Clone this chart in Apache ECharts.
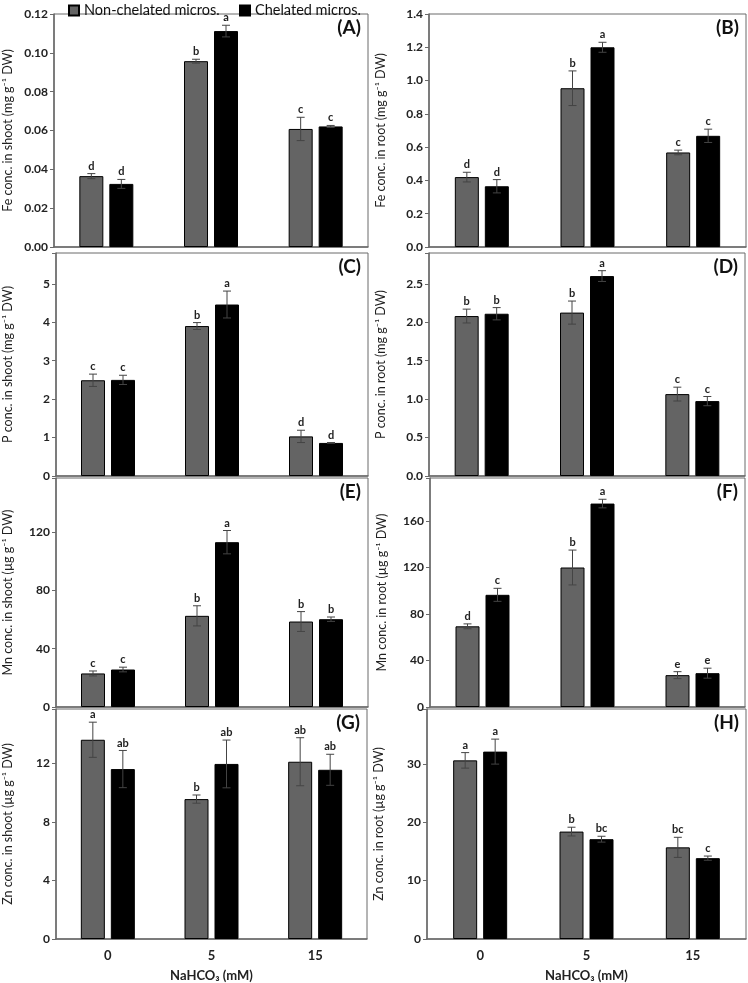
<!DOCTYPE html>
<html>
<head>
<meta charset="utf-8">
<script src="https://cdn.jsdelivr.net/npm/echarts@6/dist/echarts.min.js"></script>
<style>
  html, body { margin: 0; padding: 0; background: #fff; }
  #chart-container { width: 748px; height: 983px; }
</style>
</head>
<body>
<div id="chart-container"></div>
<script>
// NaHCO3 levels (mM)
const categories = ['0', '5', '15'];
const seriesNames = ['Non-chelated micros.', 'Chelated micros.'];

// (A) Fe in shoot
const feShootNon = [0.0365, 0.0957, 0.0608];
const feShootNonErr = [0.0013, 0.001, 0.006];
const feShootChe = [0.0325, 0.1112, 0.0621];
const feShootCheErr = [0.0023, 0.003, 0.0005];
const feShootNonLetters = ['d', 'b', 'c'];
const feShootCheLetters = ['d', 'a', 'c'];

// (B) Fe in root
const feRootNon = [0.42, 0.954, 0.568];
const feRootNonErr = [0.029, 0.104, 0.014];
const feRootChe = [0.365, 1.2, 0.668];
const feRootCheErr = [0.04, 0.03, 0.04];
const feRootNonLetters = ['d', 'b', 'c'];
const feRootCheLetters = ['d', 'a', 'c'];

// (C) P in shoot
const pShootNon = [2.49, 3.9, 1.03];
const pShootNonErr = [0.16, 0.09, 0.16];
const pShootChe = [2.5, 4.46, 0.86];
const pShootCheErr = [0.12, 0.35, 0.01];
const pShootNonLetters = ['c', 'b', 'd'];
const pShootCheLetters = ['c', 'a', 'd'];

// (D) P in root
const pRootNon = [2.08, 2.125, 1.065];
const pRootNonErr = [0.09, 0.15, 0.09];
const pRootChe = [2.11, 2.6, 0.974];
const pRootCheErr = [0.08, 0.07, 0.06];
const pRootNonLetters = ['b', 'b', 'c'];
const pRootCheLetters = ['b', 'a', 'c'];

// (E) Mn in shoot
const mnShootNon = [23, 62.5, 58.6];
const mnShootNonErr = [1.7, 6.9, 6.8];
const mnShootChe = [25.7, 113, 60.2];
const mnShootCheErr = [1.6, 8, 1.5];
const mnShootNonLetters = ['c', 'b', 'b'];
const mnShootCheLetters = ['c', 'a', 'b'];

// (F) Mn in root
const mnRootNon = [69.4, 120, 27.4];
const mnRootNonErr = [2.1, 15, 3];
const mnRootChe = [96.5, 175, 29.1];
const mnRootCheErr = [5.6, 3.7, 4.3];
const mnRootNonLetters = ['d', 'b', 'e'];
const mnRootCheLetters = ['c', 'a', 'e'];

// (G) Zn in shoot
const znShootNon = [13.6, 9.55, 12.1];
const znShootNonErr = [1.2, 0.28, 1.64];
const znShootChe = [11.6, 11.95, 11.55];
const znShootCheErr = [1.27, 1.63, 1.06];
const znShootNonLetters = ['a', 'b', 'ab'];
const znShootCheLetters = ['ab', 'ab', 'ab'];

// (H) Zn in root
const znRootNon = [30.6, 18.4, 15.7];
const znRootNonErr = [1.33, 0.75, 1.72];
const znRootChe = [32.1, 17.1, 13.85];
const znRootCheErr = [2.14, 0.5, 0.36];
const znRootNonLetters = ['a', 'b', 'bc'];
const znRootCheLetters = ['a', 'bc', 'c'];

const FONT = 'Lato, "Open Sans", sans-serif';
const AXIS_COLOR = '#6a6a6a';
const BAR_W = 24;
const BAR_GAP = 6;

const panels = [
    { tag: '(A)', title: 'Fe conc. in shoot (mg g⁻¹ DW)', non: feShootNon, nonErr: feShootNonErr, che: feShootChe, cheErr: feShootCheErr,
      nonLet: feShootNonLetters, cheLet: feShootCheLetters, max: 0.12, interval: 0.02, dec: 2,
      grid: { left: 50, top: 14, width: 318, height: 233 }, nameGap: 40 },
    { tag: '(B)', title: 'Fe conc. in root (mg g⁻¹ DW)', non: feRootNon, nonErr: feRootNonErr, che: feRootChe, cheErr: feRootCheErr,
      nonLet: feRootNonLetters, cheLet: feRootCheLetters, max: 1.4, interval: 0.2, dec: 1,
      grid: { left: 429, top: 14, width: 317, height: 233 }, nameGap: 42 },
    { tag: '(C)', title: 'P conc. in shoot (mg g⁻¹ DW)', non: pShootNon, nonErr: pShootNonErr, che: pShootChe, cheErr: pShootCheErr,
      nonLet: pShootNonLetters, cheLet: pShootCheLetters, max: 5.8, interval: 1, dec: 0,
      grid: { left: 52, top: 253, width: 316, height: 223 }, nameGap: 42 },
    { tag: '(D)', title: 'P conc. in root (mg g⁻¹ DW)', non: pRootNon, nonErr: pRootNonErr, che: pRootChe, cheErr: pRootCheErr,
      nonLet: pRootNonLetters, cheLet: pRootCheLetters, max: 2.9, interval: 0.5, dec: 1,
      grid: { left: 429, top: 253, width: 316, height: 223 }, nameGap: 42 },
    { tag: '(E)', title: 'Mn conc. in shoot (µg g⁻¹ DW)', non: mnShootNon, nonErr: mnShootNonErr, che: mnShootChe, cheErr: mnShootCheErr,
      nonLet: mnShootNonLetters, cheLet: mnShootCheLetters, max: 157, interval: 40, dec: 0,
      grid: { left: 52, top: 478, width: 316, height: 229 }, nameGap: 42 },
    { tag: '(F)', title: 'Mn conc. in root (µg g⁻¹ DW)', non: mnRootNon, nonErr: mnRootNonErr, che: mnRootChe, cheErr: mnRootCheErr,
      nonLet: mnRootNonLetters, cheLet: mnRootCheLetters, max: 197, interval: 40, dec: 0,
      grid: { left: 430, top: 478, width: 315, height: 229 }, nameGap: 42 },
    { tag: '(G)', title: 'Zn conc. in shoot (µg g⁻¹ DW)', non: znShootNon, nonErr: znShootNonErr, che: znShootChe, cheErr: znShootCheErr,
      nonLet: znShootNonLetters, cheLet: znShootCheLetters, max: 15.7, interval: 4, dec: 0,
      grid: { left: 52, top: 709, width: 315, height: 235 }, nameGap: 42 },
    { tag: '(H)', title: 'Zn conc. in root (µg g⁻¹ DW)', non: znRootNon, nonErr: znRootNonErr, che: znRootChe, cheErr: znRootCheErr,
      nonLet: znRootNonLetters, cheLet: znRootCheLetters, max: 39.4, interval: 10, dec: 0,
      grid: { left: 427, top: 709, width: 319, height: 234 }, nameGap: 42 }
];

/**
 * 误差线 + 显著性字母
 */
function errorRenderer(values, errs, letters, offset) {
    return function (params, api) {
        const i = params.dataIndex;
        const v = values[i], e = errs[i];
        const hi = api.coord([i, v + e]);
        const lo = api.coord([i, v - e]);
        const x = hi[0] + offset;
        const cap = 4;
        const style = { stroke: '#444', lineWidth: 1 };
        return {
            type: 'group',
            children: [
                { type: 'line', shape: { x1: x, y1: hi[1], x2: x, y2: lo[1] }, style: style },
                { type: 'line', shape: { x1: x - cap, y1: hi[1], x2: x + cap, y2: hi[1] }, style: style },
                { type: 'line', shape: { x1: x - cap, y1: lo[1], x2: x + cap, y2: lo[1] }, style: style },
                { type: 'text', x: x, y: hi[1] - 2, style: {
                    text: letters[i], fill: '#222', font: 'bold 11px ' + FONT,
                    textAlign: 'center', textVerticalAlign: 'bottom' } }
            ]
        };
    };
}

function build() {
    const grid = [], xAxis = [], yAxis = [], series = [], graphic = [];
    panels.forEach(function (p, k) {
        const isBottom = k >= 6;
        grid.push(Object.assign({ show: true, borderColor: AXIS_COLOR, borderWidth: 1, backgroundColor: 'transparent' }, p.grid));
        xAxis.push({
            gridIndex: k, type: 'category', data: categories,
            axisLine: { lineStyle: { color: AXIS_COLOR, width: 1.5 } },
            axisTick: { show: false },
            axisLabel: { show: isBottom, fontFamily: FONT, fontSize: 13, fontWeight: 'bold', color: '#222', margin: 10 },
            name: isBottom ? 'NaHCO₃ (mM)' : '',
            nameLocation: 'middle', nameGap: 30,
            nameTextStyle: { fontFamily: FONT, fontSize: 13, fontWeight: 'bold', color: '#222' }
        });
        yAxis.push({
            gridIndex: k, type: 'value', min: 0, max: p.max, interval: p.interval,
            name: p.title, nameLocation: 'middle', nameGap: p.nameGap, nameRotate: 90,
            nameTextStyle: { fontFamily: FONT, fontSize: 12.5, color: '#222' },
            axisLine: { show: true, lineStyle: { color: AXIS_COLOR, width: 1.5 } },
            axisTick: { show: true, inside: false, length: 4, lineStyle: { color: AXIS_COLOR } },
            splitLine: { show: false },
            axisLabel: {
                fontFamily: FONT, fontSize: 12, fontWeight: 'bold', color: '#222', margin: 6,
                formatter: function (v) {
                    const r = v / p.interval;
                    if (Math.abs(r - Math.round(r)) > 1e-6) return '';
                    return v.toFixed(p.dec);
                }
            }
        });
        const off = (BAR_W + BAR_GAP) / 2;
        series.push({
            name: seriesNames[0], type: 'bar', xAxisIndex: k, yAxisIndex: k,
            data: p.non, barWidth: BAR_W, barGap: (BAR_GAP / BAR_W * 100) + '%',
            itemStyle: { color: '#646464', borderColor: '#000', borderWidth: 1 },
            silent: true
        });
        series.push({
            name: seriesNames[1], type: 'bar', xAxisIndex: k, yAxisIndex: k,
            data: p.che, barWidth: BAR_W, barGap: (BAR_GAP / BAR_W * 100) + '%',
            itemStyle: { color: '#000000', borderColor: '#000', borderWidth: 1 },
            silent: true
        });
        series.push({
            type: 'custom', xAxisIndex: k, yAxisIndex: k, z: 5, silent: true,
            renderItem: errorRenderer(p.non, p.nonErr, p.nonLet, -off),
            data: p.non.map(function (v, i) { return [i, v]; })
        });
        series.push({
            type: 'custom', xAxisIndex: k, yAxisIndex: k, z: 5, silent: true,
            renderItem: errorRenderer(p.che, p.cheErr, p.cheLet, off),
            data: p.che.map(function (v, i) { return [i, v]; })
        });
        graphic.push({
            type: 'text', right: 748 - (p.grid.left + p.grid.width) + 7, top: p.grid.top + 4,
            style: { text: p.tag, font: 'bold 19px ' + FONT, fill: '#111' }
        });
    });
    return { grid, xAxis, yAxis, series, graphic };
}

const legendBase = {
    top: -2, itemWidth: 10, itemHeight: 10, icon: 'rect',
    textStyle: { fontFamily: FONT, fontSize: 14.5, color: '#111' }
};

const chart = echarts.init(document.querySelector('#chart-container'), null, { renderer: 'canvas' });
const parts = build();
chart.setOption({
    animation: false,
    backgroundColor: '#fff',
    legend: [
        Object.assign({ data: [seriesNames[0]], left: 63 }, legendBase),
        Object.assign({ data: [seriesNames[1]], left: 234 }, legendBase)
    ],
    grid: parts.grid,
    xAxis: parts.xAxis,
    yAxis: parts.yAxis,
    series: parts.series,
    graphic: parts.graphic
});
</script>
</body>
</html>
